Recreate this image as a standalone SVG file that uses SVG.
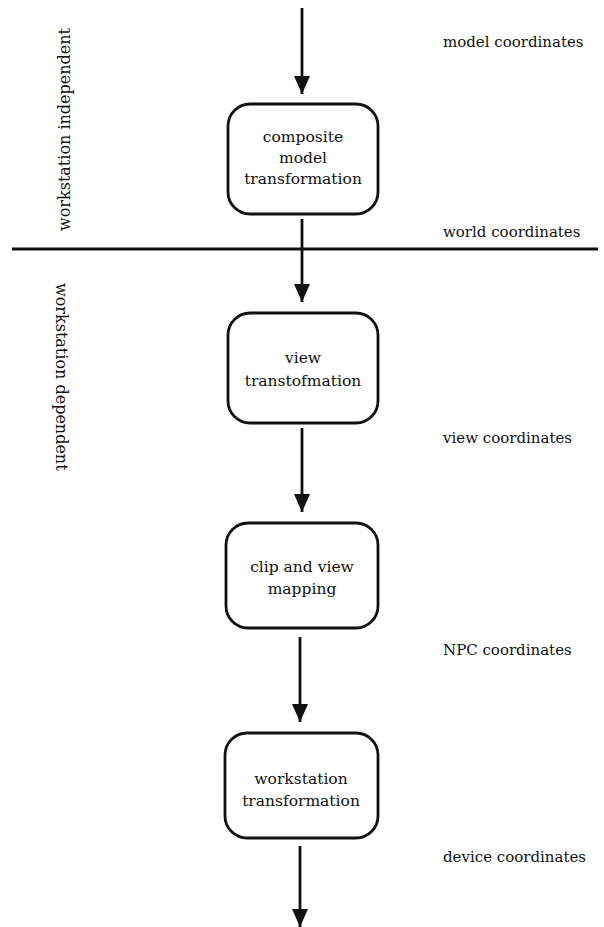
<svg xmlns="http://www.w3.org/2000/svg" width="604" height="927" viewBox="0 0 604 927">
  <style>
    .box { fill: #ffffff; stroke: #111111; stroke-width: 2.8; }
    .flow { stroke: #111111; stroke-width: 2.8; fill: none; }
    .rule { stroke: #111111; stroke-width: 3; }
    .lbl { font-family: "DejaVu Serif", "Liberation Serif", serif; font-size: 15px; fill: #111111; }
    .side { font-family: "DejaVu Serif", "Liberation Serif", serif; font-size: 16px; fill: #111111; }
    .node-text { font-family: "DejaVu Serif", "Liberation Serif", serif; font-size: 15.5px; fill: #111111; text-anchor: middle; }
  </style>
  <defs>
    <!-- arrowhead drawn along +x so orient="auto" points it down the line -->
    <marker id="head" viewBox="0 0 18 16" refX="18" refY="8" markerWidth="18" markerHeight="16" markerUnits="userSpaceOnUse" orient="auto">
      <path d="M0,0 L18,8 L0,16 Z" fill="#111111"/>
    </marker>
  </defs>

  <rect width="604" height="927" fill="#ffffff"/>

  <!-- boundary between the two domains -->
  <line class="rule" x1="12" y1="249" x2="598" y2="249"/>

  <!-- side captions -->
  <text class="side" transform="translate(70,231) rotate(-90)">workstation independent</text>
  <text class="side" transform="translate(56,283) rotate(90)">workstation dependent</text>

  <!-- coordinate space labels -->
  <text class="lbl" x="443" y="47">model coordinates</text>
  <text class="lbl" x="443" y="237">world coordinates</text>
  <text class="lbl" x="443" y="443">view coordinates</text>
  <text class="lbl" x="443" y="655">NPC coordinates</text>
  <text class="lbl" x="443" y="862">device coordinates</text>

  <!-- connectors -->
  <g id="connectors">
    <line class="flow" x1="302" y1="8" x2="302" y2="94" marker-end="url(#head)"/>
    <line class="flow" x1="302" y1="219" x2="302" y2="302" marker-end="url(#head)"/>
    <line class="flow" x1="302" y1="428" x2="302" y2="512" marker-end="url(#head)"/>
    <line class="flow" x1="300" y1="637" x2="300" y2="722" marker-end="url(#head)"/>
    <line class="flow" x1="300" y1="846" x2="300" y2="927" marker-end="url(#head)"/>
  </g>

  <g id="composite-model-transformation">
    <rect class="box" x="228" y="104" width="150" height="110" rx="22"/>
    <text class="node-text" x="303" y="142">composite</text>
    <text class="node-text" x="303" y="163">model</text>
    <text class="node-text" x="303" y="184">transformation</text>
  </g>

  <g id="view-transformation">
    <rect class="box" x="228" y="313" width="150" height="110" rx="22"/>
    <text class="node-text" x="303" y="363">view</text>
    <text class="node-text" x="303" y="386">transtofmation</text>
  </g>

  <g id="clip-and-view-mapping">
    <rect class="box" x="226" y="523" width="152" height="105" rx="22"/>
    <text class="node-text" x="302" y="572">clip and view</text>
    <text class="node-text" x="302" y="594">mapping</text>
  </g>

  <g id="workstation-transformation">
    <rect class="box" x="225" y="733" width="153" height="105" rx="22"/>
    <text class="node-text" x="301" y="784">workstation</text>
    <text class="node-text" x="301" y="806">transformation</text>
  </g>
</svg>
